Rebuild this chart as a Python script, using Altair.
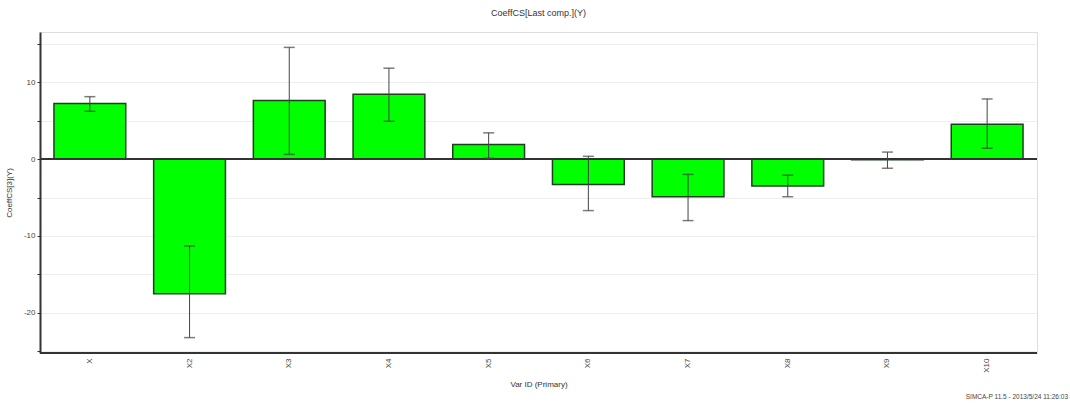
import altair as alt
import pandas as pd

variables = ["X", "X2", "X3", "X4", "X5", "X6", "X7", "X8", "X9", "X10"]
coef = [7.2, -17.5, 7.6, 8.4, 1.9, -3.3, -4.9, -3.5, -0.1, 4.5]
err_hi = [8.1, -11.3, 14.5, 11.8, 3.4, 0.35, -2.0, -2.1, 0.9, 7.8]
err_lo = [6.2, -23.2, 0.6, 4.9, 0.1, -6.7, -8.0, -4.9, -1.2, 1.4]
y_ticks = [-25, -20, -15, -10, -5, 0, 5, 10, 15]

df = pd.DataFrame({"var": variables, "coef": coef, "hi": err_hi, "lo": err_lo})

FONT = "Liberation Sans"
ydom = [-25.2, 16.5]

xenc = alt.X("var:N", sort=variables, title="Var ID (Primary)",
             scale=alt.Scale(paddingInner=0.28, paddingOuter=0.14),
             axis=alt.Axis(labelAngle=-90, labelFontSize=8, labelFont=FONT, labelColor="#444",
                           titleFont=FONT, titleFontSize=8, titleColor="#333", titleFontWeight="normal",
                           titlePadding=8, domain=False, ticks=False, labelPadding=5,
                           labelBaseline="middle"))
yscale = alt.Scale(domain=ydom, nice=False, zero=False)

bars = alt.Chart(df).mark_bar(color="#00ff00", stroke="#1f3f1f", strokeWidth=1.5).encode(
    x=xenc,
    y=alt.Y("coef:Q", scale=yscale, title="CoeffCS[3](Y)",
            axis=alt.Axis(values=y_ticks,
                          labelExpr="datum.value % 10 == 0 ? toString(datum.value) : ''",
                          grid=True, gridColor="#eeeeee", gridWidth=1,
                          tickSize=3, tickColor="#333", domainColor="#333", domainWidth=2,
                          labelFontSize=8, labelFont=FONT, labelColor="#444",
                          titleFont=FONT, titleFontSize=8, titleColor="#333",
                          titleFontWeight="normal", titlePadding=10)),
    y2=alt.datum(0),
)

zero = alt.Chart(df).mark_rule(color="#333", strokeWidth=1.5).encode(y=alt.datum(0))

errs = alt.Chart(df).mark_rule(color="#444", strokeWidth=1).encode(
    x=alt.X("var:N", sort=variables), y=alt.Y("hi:Q", scale=yscale), y2="lo:Q")
cap_hi = alt.Chart(df).mark_tick(color="#444", size=11, thickness=1.5, orient="horizontal").encode(
    x=alt.X("var:N", sort=variables), y=alt.Y("hi:Q", scale=yscale))
cap_lo = alt.Chart(df).mark_tick(color="#444", size=11, thickness=1.5, orient="horizontal").encode(
    x=alt.X("var:N", sort=variables), y=alt.Y("lo:Q", scale=yscale))

bottom = alt.Chart(df).mark_rule(color="#333", strokeWidth=2).encode(y=alt.datum(ydom[0]))

footnote = alt.Chart(pd.DataFrame({"t": ["SIMCA-P 11.5 - 2013/5/24 11:26:03"]})).mark_text(
    align="right", baseline="middle", fontSize=6.5, font=FONT, color="#444").encode(
    text="t:N", x=alt.value(1028), y=alt.value(365))

chart = alt.layer(bars, zero, errs, cap_hi, cap_lo, bottom, footnote).properties(
    width=997, height=321,
    title=alt.Title("CoeffCS[Last comp.](Y)", font=FONT, fontSize=9, fontWeight="normal",
                    color="#333", offset=14),
    autosize=alt.AutoSizeParams(type="none"),
    padding={"left": 40, "top": 32, "right": 33, "bottom": 52},
).configure_view(stroke="#999", strokeWidth=1.5).configure(background="white")

chart.save("out.html", embed_options={"renderer": "svg", "actions": False})
